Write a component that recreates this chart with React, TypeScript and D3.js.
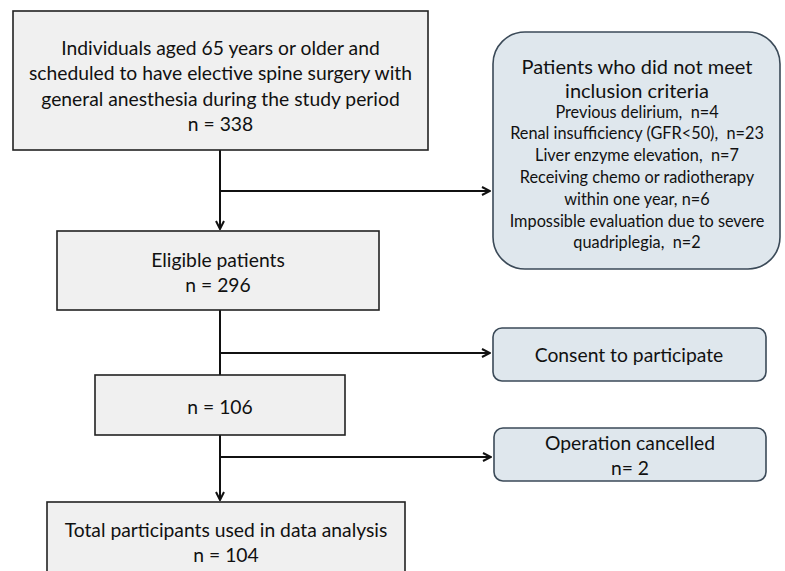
import React from "react";
import * as d3 from "d3";

const mainLabels = [
  ["Individuals aged 65 years or older and", "scheduled to have elective spine surgery with", "general anesthesia during the study period"],
  ["Eligible patients"],
  [],
  ["Total participants used in data analysis"],
];
const mainCounts = [338, 296, 106, 104];

const sideTitle = ["Patients who did not meet", "inclusion criteria"];
const exclusionLines = [
  "Previous delirium,  n=4",
  "Renal insufficiency (GFR<50),  n=23",
  "Liver enzyme elevation,  n=7",
  "Receiving chemo or radiotherapy",
  "within one year, n=6",
  "Impossible evaluation due to severe",
  "quadriplegia,  n=2",
];
const consentLabel = ["Consent to participate"];
const cancelledLabel = ["Operation cancelled", "n= 2"];

const W = 785, H = 571;
const FONT = "Lato, 'Open Sans', sans-serif";

export default function App() {
  const line = d3.line();
  const spineX = 220;
  const mainBoxes = [
    { x: 13, y: 11, w: 415, h: 139, lines: [...mainLabels[0], `n = ${mainCounts[0]}`], y0: 47, dy: 25.5 },
    { x: 57, y: 231, w: 322, h: 79, lines: [...mainLabels[1], `n = ${mainCounts[1]}`], y0: 259, dy: 25 },
    { x: 95, y: 375, w: 250, h: 60, lines: [`n = ${mainCounts[2]}`], y0: 406, dy: 25 },
    { x: 47, y: 502, w: 358, h: 90, lines: [...mainLabels[3], `n = ${mainCounts[3]}`], y0: 529, dy: 25 },
  ];
  const sideBoxes = [
    { x: 493, y: 32, w: 287, h: 237, r: 32 },
    { x: 493, y: 328, w: 273, h: 53, r: 9 },
    { x: 494, y: 428, w: 272, h: 53, r: 9 },
  ];
  const arrows: [number, number][][] = [
    [[spineX, 150], [spineX, 229]],
    [[spineX, 191], [490, 191]],
    [[spineX, 310], [spineX, 375]],
    [[spineX, 353], [490, 353]],
    [[spineX, 435], [spineX, 500]],
    [[spineX, 457], [491, 457]],
  ];
  const withHead = [true, true, false, true, true, true];
  const pre = { whiteSpace: "pre" as const };
  return (
    <svg width={W} height={H} style={{ position: "absolute", left: 0, top: 0, background: "#fff" }}>
      <defs>
        <marker id="ah" viewBox="0 0 10 10" refX="9" refY="5" markerWidth="10" markerHeight="10" markerUnits="userSpaceOnUse" orient="auto">
          <path d="M1,1 L9,5 L1,9" fill="none" stroke="#111" strokeWidth={2} />
        </marker>
      </defs>
      <rect x={0} y={0} width={W} height={H} fill="#fff" />
      {arrows.map((a, i) => (
        <path key={i} d={line(a) || ""} stroke="#111" strokeWidth={2} fill="none" markerEnd={withHead[i] ? "url(#ah)" : undefined} />
      ))}
      {mainBoxes.map((b, i) => (
        <g key={i}>
          <rect x={b.x} y={b.y} width={b.w} height={b.h} fill="#f0f0f0" stroke="#222" strokeWidth={1.6} />
          {b.lines.map((t, j) => (
            <text key={j} x={b.x + b.w / 2} y={b.y0 + j * b.dy} textAnchor="middle" dominantBaseline="central" fontFamily={FONT} fontSize={19.3} fill="#111">{t}</text>
          ))}
        </g>
      ))}
      {sideBoxes.map((b, i) => (
        <rect key={i} x={b.x} y={b.y} width={b.w} height={b.h} rx={b.r} ry={b.r} fill="#dfe7ed" stroke="#3b4a58" strokeWidth={1.6} />
      ))}
      {sideTitle.map((t, j) => (
        <text key={"t" + j} x={637} y={66 + j * 24} textAnchor="middle" dominantBaseline="central" fontFamily={FONT} fontSize={20} fill="#111">{t}</text>
      ))}
      {exclusionLines.map((t, j) => (
        <text key={"e" + j} x={637} y={111 + j * 21.8} textAnchor="middle" dominantBaseline="central" fontFamily={FONT} fontSize={16.3} fill="#111" style={pre}>{t}</text>
      ))}
      {consentLabel.map((t, j) => (
        <text key={"c" + j} x={629} y={354} textAnchor="middle" dominantBaseline="central" fontFamily={FONT} fontSize={19.3} fill="#111">{t}</text>
      ))}
      {cancelledLabel.map((t, j) => (
        <text key={"o" + j} x={630} y={442 + j * 25} textAnchor="middle" dominantBaseline="central" fontFamily={FONT} fontSize={19.3} fill="#111">{t}</text>
      ))}
    </svg>
  );
}
